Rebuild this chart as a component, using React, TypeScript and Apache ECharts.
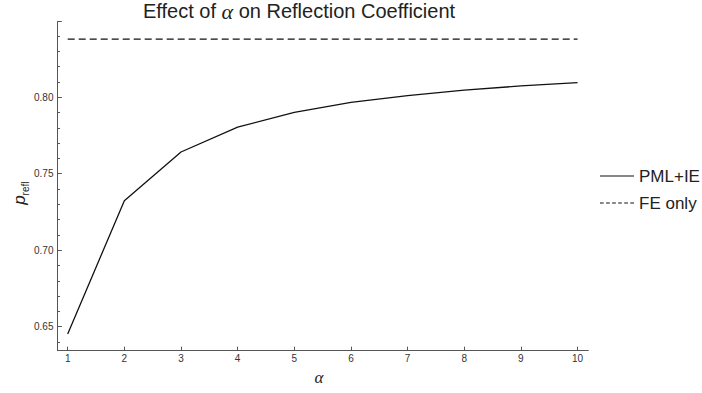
import React, { useEffect, useRef } from "react";
import * as echarts from "echarts";

const alphaValues = [1, 2, 3, 4, 5, 6, 7, 8, 9, 10];
const pmlIeValues = [0.6452, 0.7324, 0.7642, 0.7805, 0.7901, 0.7966, 0.8011, 0.8046, 0.8074, 0.8096];
const feOnlyValues = [0.838, 0.838, 0.838, 0.838, 0.838, 0.838, 0.838, 0.838, 0.838, 0.838];
const seriesNames = ["PML+IE", "FE only"];
const titleText = "Effect of {a|α} on Reflection Coefficient";

const solidIcon = "path://M0,0h34v1.2h-34z";
const dashedIcon =
  "path://M0,0h3.7v1.2h-3.7z M6.06,0h3.7v1.2h-3.7z M12.12,0h3.7v1.2h-3.7z M18.18,0h3.7v1.2h-3.7z M24.24,0h3.7v1.2h-3.7z M30.3,0h3.7v1.2h-3.7z";

export default function App() {
  const ref = useRef<HTMLDivElement>(null);
  useEffect(() => {
    if (!ref.current) return;
    const chart = echarts.init(ref.current, null, { renderer: "svg" });
    const font = "'Liberation Sans', Arial, sans-serif";
    const serif = "'Liberation Serif', 'Times New Roman', serif";
    const axisColor = "#555";
    const labelColor = "#333";
    const hiddenSplit = { show: true, lineStyle: { color: "rgba(0,0,0,0)" } };
    chart.setOption({
      animation: false,
      backgroundColor: "#fff",
      title: {
        text: titleText,
        left: 143,
        top: 0,
        padding: 0,
        textStyle: {
          fontFamily: font,
          fontSize: 20,
          fontWeight: "normal",
          color: "#222",
          rich: {
            a: { fontFamily: serif, fontStyle: "italic", fontSize: 22, color: "#222" },
          },
        },
      },
      legend: {
        orient: "vertical",
        left: 600,
        top: 167.5,
        padding: 0,
        itemWidth: 34,
        itemHeight: 10,
        itemGap: 10,
        symbolKeepAspect: true,
        textStyle: { fontFamily: font, fontSize: 17, color: "#222" },
        data: [
          { name: seriesNames[0], icon: solidIcon, itemStyle: { color: "#111", borderWidth: 0 } },
          { name: seriesNames[1], icon: dashedIcon, itemStyle: { color: "#111", borderWidth: 0 } },
        ],
      },
      grid: {
        left: 57.5,
        right: 113.7,
        top: 21.7,
        bottom: 42.3,
        containLabel: false,
        outerBoundsMode: "none",
      },
      xAxis: {
        type: "value",
        min: 0.82,
        max: 10.19,
        splitNumber: 10,
        axisLine: { show: true, lineStyle: { color: axisColor } },
        axisTick: { show: true, inside: true, length: 4, lineStyle: { color: axisColor } },
        axisLabel: {
          show: true,
          showMinLabel: false,
          showMaxLabel: false,
          fontFamily: font,
          fontSize: 10,
          color: labelColor,
          margin: 3,
        },
        splitLine: hiddenSplit,
        name: "α",
        nameLocation: "middle",
        nameGap: 15,
        nameTextStyle: {
          fontFamily: serif,
          fontStyle: "italic",
          fontSize: 17,
          color: "#222",
          padding: [0, 8, 0, 0],
        },
      },
      yAxis: {
        type: "value",
        min: 0.6343,
        max: 0.8494,
        splitNumber: 4,
        axisLine: { show: true, lineStyle: { color: axisColor } },
        axisTick: { show: true, inside: true, length: 4.3, lineStyle: { color: axisColor } },
        minorTick: { show: true, splitNumber: 5, length: 2.5, lineStyle: { color: axisColor } },
        axisLabel: {
          show: true,
          showMinLabel: false,
          showMaxLabel: false,
          fontFamily: font,
          fontSize: 10,
          color: labelColor,
          margin: 4,
          formatter: (v: number) => v.toFixed(2),
        },
        splitLine: hiddenSplit,
        name: "{p|p}{s|refl}",
        nameLocation: "middle",
        nameRotate: 90,
        nameGap: 27,
        nameMoveOverlap: false,
        nameTextStyle: {
          padding: [0, 14, 0, 0],
          rich: {
            p: { fontFamily: font, fontStyle: "italic", fontSize: 17, color: "#222", lineHeight: 17, verticalAlign: "top" },
            s: { fontFamily: font, fontSize: 10, color: "#222", verticalAlign: "bottom", padding: [10, 0, 0, 0] },
          },
        },
      },
      series: [
        {
          name: seriesNames[0],
          type: "line",
          symbol: "none",
          data: alphaValues.map((a, i) => [a, pmlIeValues[i]]),
          lineStyle: { color: "#111", width: 1.3 },
          itemStyle: { color: "#111" },
        },
        {
          name: seriesNames[1],
          type: "line",
          symbol: "none",
          data: alphaValues.map((a, i) => [a, feOnlyValues[i]]),
          lineStyle: { color: "#111", width: 1.2, type: [7, 4] },
          itemStyle: { color: "#111" },
        },
      ],
    });
    return () => chart.dispose();
  }, []);
  return (
    <div
      ref={ref}
      style={{ position: "fixed", left: 0, top: 0, width: 702, height: 393, background: "#fff" }}
    />
  );
}
